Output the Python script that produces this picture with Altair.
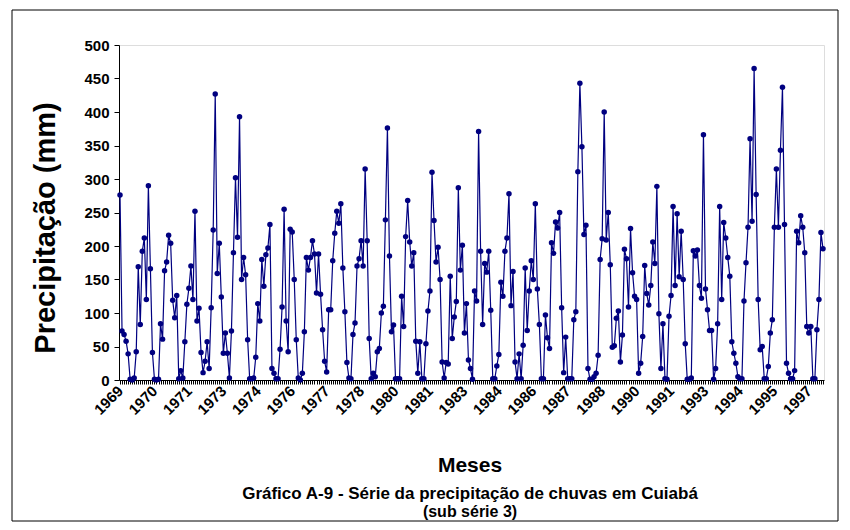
import altair as alt
import pandas as pd

# Monthly precipitation (mm), starting Jan 1969
precip = [
    276, 73, 68, 58, 39, 1, 0, 3, 42, 169, 83, 192, 212, 120, 290, 166, 41, 1, 0, 1, 84, 61, 163, 176, 216, 204,
    119, 93, 126, 2, 14, 3, 57, 113, 137, 170, 120, 252, 88, 107, 41, 11, 28, 57, 17, 108, 224, 427, 159, 204, 124, 40, 70, 40, 3,
    73, 190, 302, 213, 393, 150, 183, 157, 60, 2, 2, 3, 34, 114, 88, 180, 140, 187, 197, 232, 17, 10, 2, 2, 46, 109, 255, 88, 42,
    225, 221, 150, 60, 3, 0, 10, 72, 183, 164, 183, 208, 188, 130, 188, 128, 75, 28, 12, 105, 105, 178, 219, 252, 234, 263, 167, 102, 26, 3,
    2, 68, 85, 170, 181, 208, 170, 315, 208, 62, 2, 10, 5, 42, 47, 100, 110, 239, 376, 185, 72, 82, 2, 2, 2, 125, 80, 214, 268, 206,
    170, 190, 58, 10, 57, 2, 2, 54, 103, 133, 310, 238, 176, 198, 150, 27, 3, 26, 24, 155, 62, 94, 117, 287, 164, 201, 70, 114, 30, 17,
    1, 133, 118, 371, 192, 83, 174, 161, 192, 104, 2, 2, 21, 38, 146, 125, 192, 212, 278, 111, 162, 27, 2, 39, 2, 52, 167, 74, 133,
    178, 150, 263, 136, 83, 2, 2, 97, 63, 47, 205, 189, 236, 227, 250, 108, 11, 64, 2, 2, 2, 90, 102, 311, 443, 348, 217, 231, 17,
    1, 1, 5, 10, 37, 180, 211, 400, 209, 250, 172, 49, 51, 92, 103, 27, 67, 195, 181, 109, 226, 160, 125, 120, 10, 25, 65, 171, 129, 112, 141,
    206, 174, 289, 99, 17, 84, 2, 1, 95, 126, 259, 141, 248, 154, 222, 150, 54, 1, 1, 3, 193, 185, 194, 141, 122, 366, 136, 105, 74, 74, 1, 17, 84,
    259, 120, 235, 212, 183, 155, 57, 40, 25, 5, 2, 2, 118, 175, 228, 360, 237, 465, 277, 120, 45, 50, 2, 2, 20,
    70, 90, 228, 315, 228, 343, 437, 232, 25, 10, 2, 2, 14, 222, 205, 245, 228, 190, 80, 70, 80, 2, 2, 75, 120, 220, 196,
]

year_labels = ["1969", "1970", "1971", "1973", "1974", "1976", "1977", "1978", "1980", "1981",
               "1983", "1984", "1986", "1987", "1988", "1990", "1991", "1993", "1994", "1995", "1997"]
label_step = 17
n_months = len(precip)

y_ticks = [0, 50, 100, 150, 200, 250, 300, 350, 400, 450, 500]

y_title = "Precipitação (mm)"
x_title = "Meses"
caption1 = "Gráfico A-9 - Série da precipitação de chuvas em Cuiabá"
caption2 = "(sub série 3)"

FONT = "Liberation Sans"
NAVY = "#000080"

df = pd.DataFrame({"idx": list(range(len(precip))), "mm": precip})

# plot-area geometry (pixels)
PL, PT = 119, 45          # plot left/top on page
W, H = 705, 335

label_expr = " : ".join(
    f"datum.value == {j * label_step} ? '{y}'" for j, y in enumerate(year_labels)
) + " : ''"

x_enc = alt.X(
    "idx:Q",
    scale=alt.Scale(domain=[-0.5, n_months - 0.5], nice=False, zero=False),
    axis=alt.Axis(
        values=list(range(n_months)),
        labelExpr=label_expr,
        labelAngle=-45,
        labelAlign="right",
        labelBaseline="middle",
        labelOverlap=False,
        labelFont=FONT,
        labelFontWeight="bold",
        labelFontSize=15,
        labelColor="black",
        labelPadding=4,
        tickSize=4,
        tickColor="black",
        domainColor="black",
        grid=False,
        title=None,
    ),
)
y_enc = alt.Y(
    "mm:Q",
    scale=alt.Scale(domain=[0, 500], nice=False),
    axis=alt.Axis(
        values=y_ticks,
        labelFont=FONT,
        labelFontWeight="bold",
        labelFontSize=15,
        labelColor="black",
        labelPadding=5,
        tickSize=5,
        tickColor="black",
        domainColor="black",
        grid=False,
        title=None,
    ),
)

series = alt.Chart(df).mark_line(
    color=NAVY, strokeWidth=1.2,
    point=alt.OverlayMarkDef(filled=True, color=NAVY, size=30, opacity=1),
).encode(x=x_enc, y=y_enc)


def txt(s, px, py, size, angle=0):
    return alt.Chart(pd.DataFrame({"t": [s]})).mark_text(
        font=FONT, fontWeight="bold", fontSize=size, color="black",
        align="center", baseline="middle", angle=angle,
    ).encode(text="t:N", x=alt.value(px - PL), y=alt.value(py - PT))


frame = alt.Chart(pd.DataFrame({"a": [0]})).mark_rect(
    fill=None, stroke="black", strokeWidth=1
).encode(
    x=alt.value(12 - PL), x2=alt.value(838 - PL),
    y=alt.value(10 - PT), y2=alt.value(521 - PT),
)

chart = alt.layer(
    frame,
    series,
    txt(y_title, 46, 228, 29, angle=270),
    txt(x_title, 470, 466, 21),
    txt(caption1, 470, 494, 17),
    txt(caption2, 470, 512, 16),
).properties(
    width=W, height=H,
    padding={"left": PL - 8, "top": PT - 8, "right": 834 - (PL - 8) - W, "bottom": 514 - (PT - 8) - H},
    autosize=alt.AutoSizeParams(type="none"),
).configure_view(stroke=None).configure(background="white")

chart.save("out.html", embed_options={"renderer": "svg", "actions": False})
